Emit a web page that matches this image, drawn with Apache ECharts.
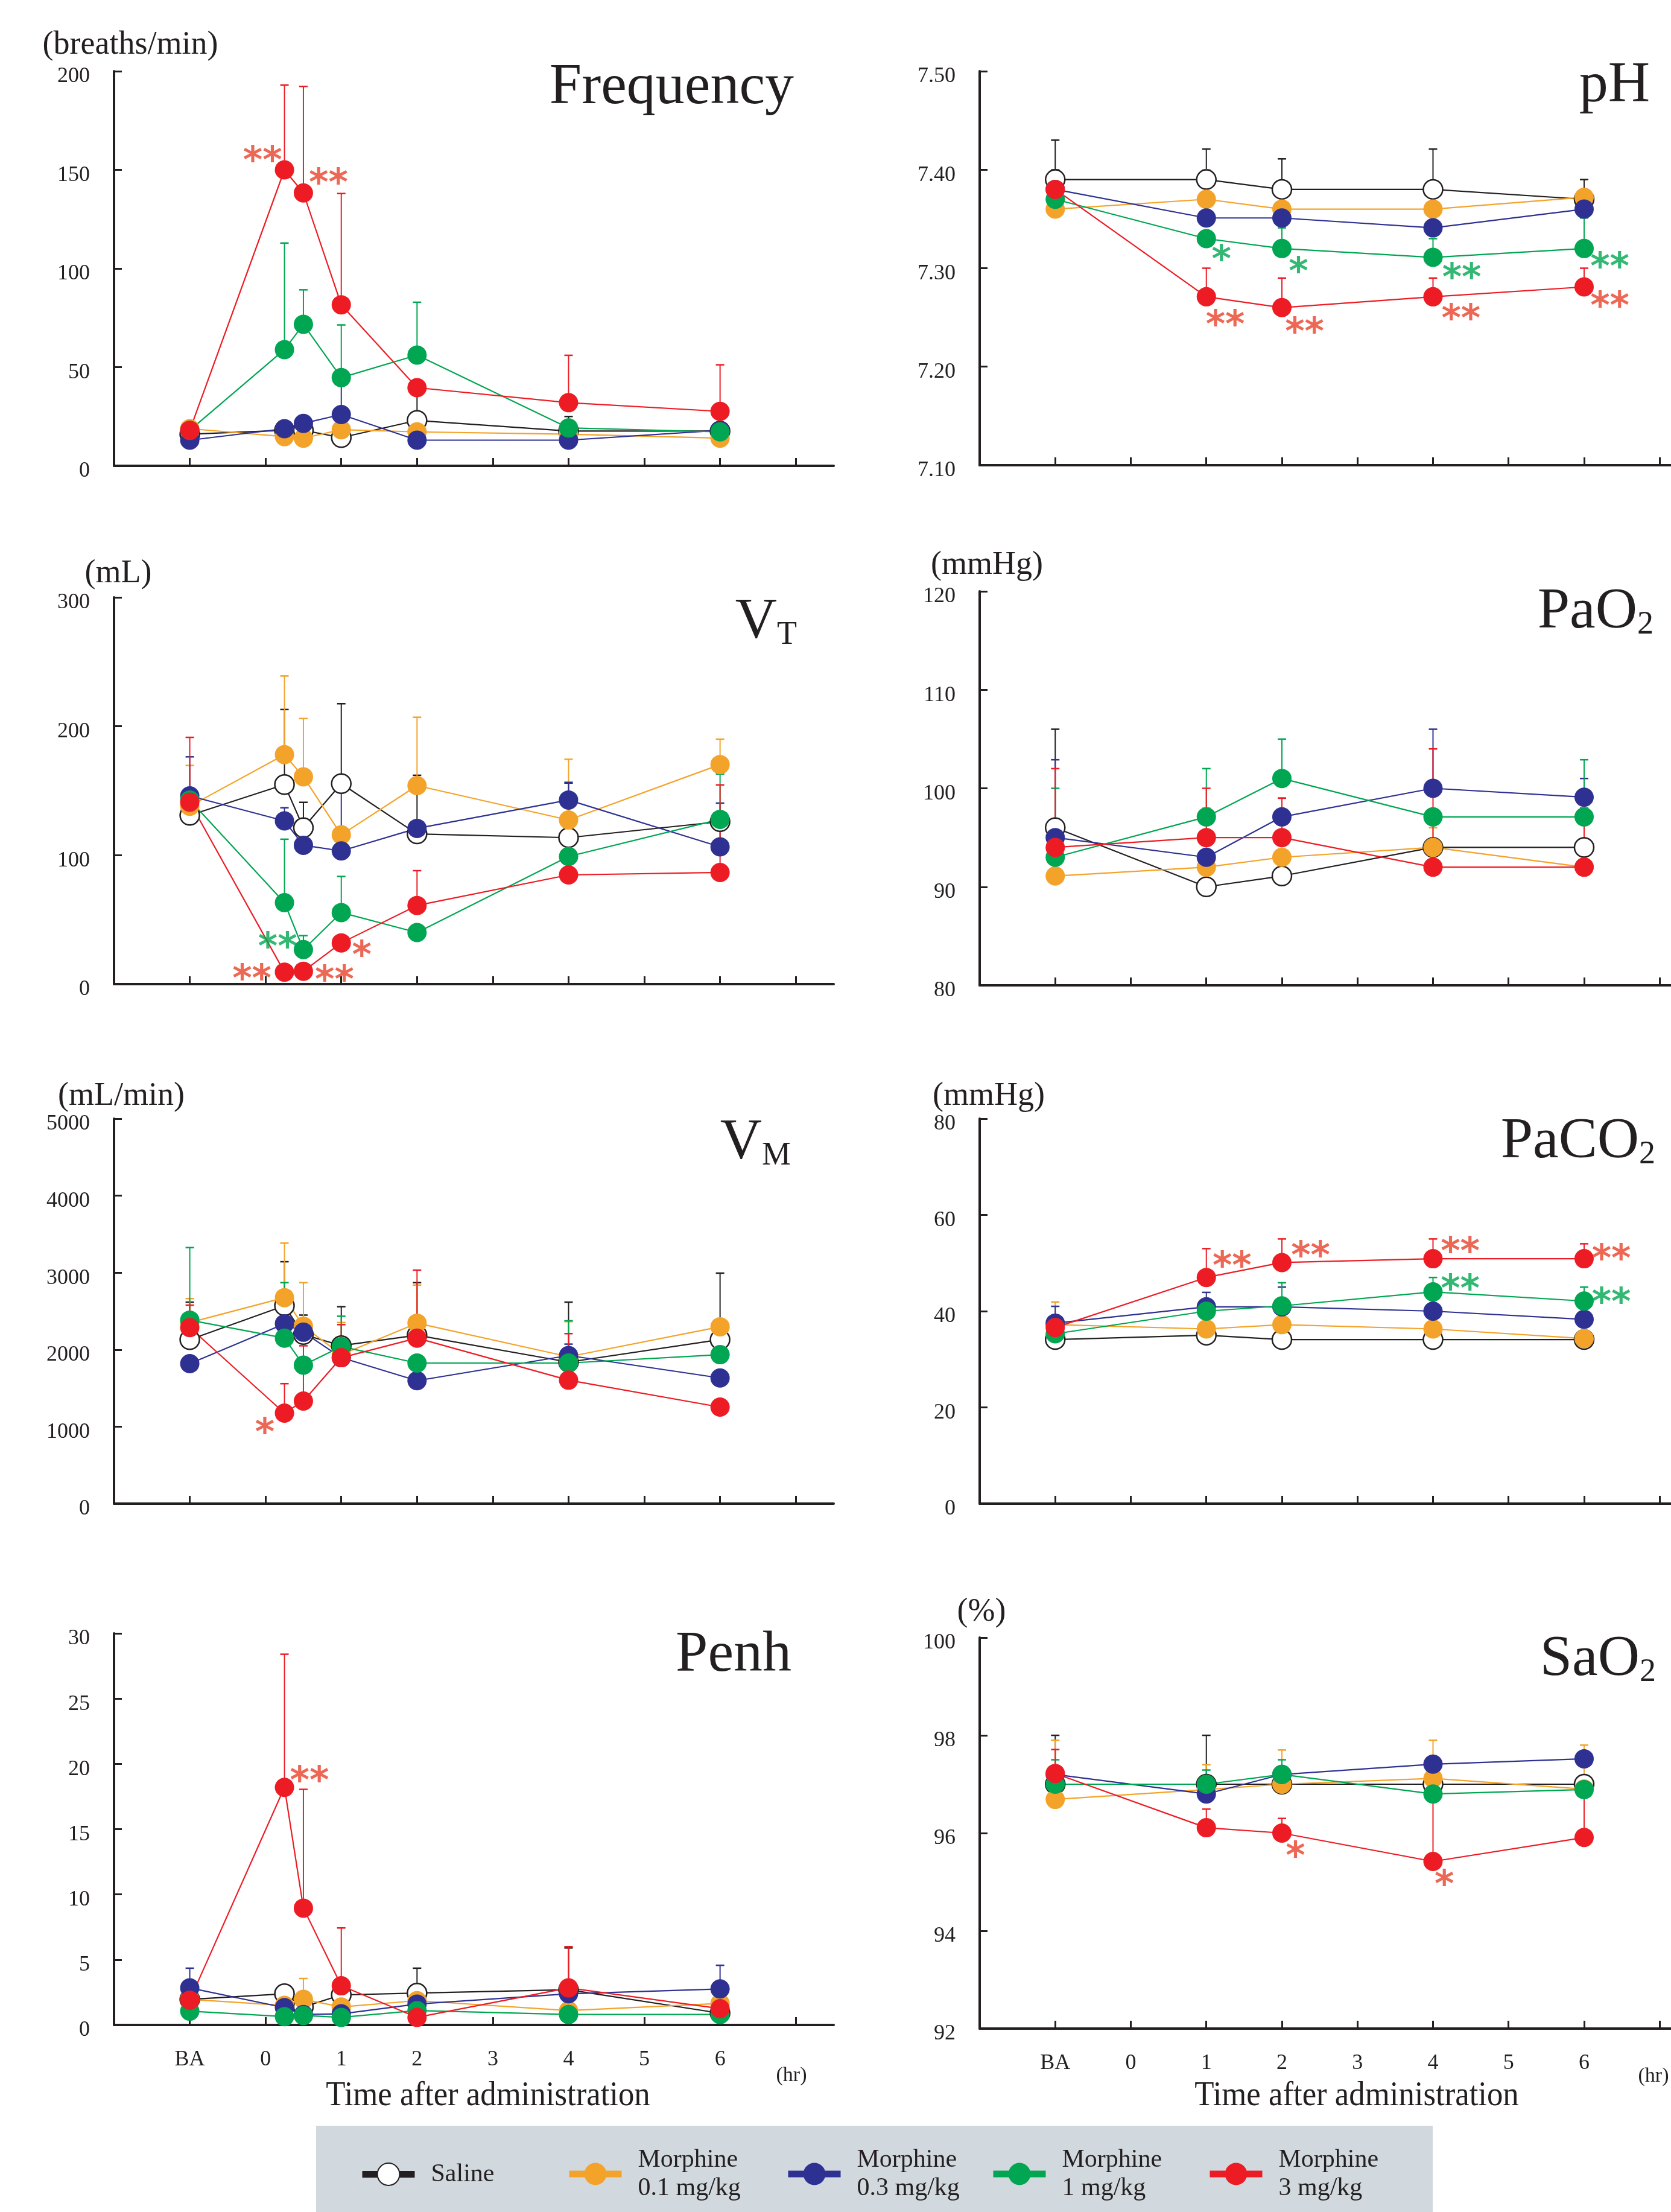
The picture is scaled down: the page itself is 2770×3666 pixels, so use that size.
<!DOCTYPE html>
<html><head><meta charset="utf-8">
<script src="https://cdn.jsdelivr.net/npm/echarts@6/dist/echarts.min.js"></script>
<style>html,body{margin:0;padding:0;background:#fff}#c{width:2770px;height:3666px}</style>
</head><body><div id="c"></div>
<script>
// ---------------- DATA ----------------
const groups = ['Saline', 'Morphine 0.1 mg/kg', 'Morphine 0.3 mg/kg', 'Morphine 1 mg/kg', 'Morphine 3 mg/kg'];
const groupColors = ['#231f20', '#f4a32a', '#2e3192', '#00a651', '#ed1c24'];
const starColors = { r: '#e9412b', g: '#00a651' };

// time points (BA plotted at -1 hr)
const tResp = [-1, 0.25, 0.5, 1, 2, 4, 6];
const tBlood = [-1, 1, 2, 4, 6];
const xTickValues = [-1, 0, 1, 2, 3, 4, 5, 6, 7];
const xLabelValues = [-1, 0, 1, 2, 3, 4, 5, 6];

// Frequency (breaths/min)   rows: Saline, 0.1, 0.3, 1, 3 mg/kg
const freqMean = [
  [16, 18, 18, 14.3, 23, 17.6, 17.6],
  [18.8, 14.8, 14, 18.3, 17.2, 16, 14],
  [13, 18.8, 21.5, 26, 13, 13, 18],
  [18, 58.9, 71.7, 44.7, 56.1, 19.2, 17.2],
  [18, 150, 138.3, 81.6, 39.6, 32, 27.6]
];
const freqUpper = [
  [null, null, null, null, 37, 25, null],
  [null, null, null, null, null, null, null],
  [null, null, null, 42, null, null, null],
  [null, 112.9, 89.2, 71.4, 82.9, null, null],
  [null, 193, 192.3, 138, null, 56, 51.2]
];
const freqStars = [[-0.04, 158.4, '**', 'r'], [0.83, 147.2, '**', 'r']];

// pH
const phMean = [
  [7.39, 7.39, 7.38, 7.38, 7.37],
  [7.36, 7.37, 7.36, 7.36, 7.372],
  [7.38, 7.351, 7.351, 7.341, 7.36],
  [7.37, 7.33, 7.32, 7.311, 7.32],
  [7.38, 7.271, 7.26, 7.271, 7.281]
];
const phUpper = [
  [7.43, 7.421, 7.411, 7.421, 7.39],
  [7.40, 7.40, null, null, null],
  [null, null, null, null, null],
  [null, null, 7.341, 7.33, 7.351],
  [7.40, 7.30, 7.29, 7.29, 7.30]
];
const phStars = [[1.20, 7.316, '*', 'g'], [2.22, 7.304, '*', 'g'], [4.38, 7.298, '**', 'g'], [6.34, 7.309, '**', 'g'],
  [1.25, 7.250, '**', 'r'], [2.30, 7.243, '**', 'r'], [4.37, 7.256, '**', 'r'], [6.34, 7.269, '**', 'r']];

// VT (mL)
const vtMean = [
  [130.9, 154.8, 121.3, 155.5, 116.5, 113.6, 126],
  [138, 178, 160.8, 115.8, 154, 127.3, 170.3],
  [146, 126.6, 107.7, 103.3, 120.8, 142.8, 106.5],
  [142.8, 63.2, 26.8, 55.5, 40, 99, 127.8],
  [141.1, 9.3, 10, 32, 61, 84.7, 86.6]
];
const vtUpper = [
  [null, 213, 141, 217.5, 162, 156, null],
  [169.6, 239, 206, null, 207, 174.4, 190],
  [176.3, 136.8, null, 150, null, 156.5, 140.4],
  [null, 112.4, 37.6, 83.5, null, null, 163],
  [191.4, null, null, null, 88, null, 154.5]
];
const vtStars = [[0.16, 34.5, '**', 'g'], [-0.18, 9.8, '**', 'r'], [0.91, 8.9, '**', 'r'], [1.27, 28.1, '*', 'r']];

// PaO2 (mmHg)
const pao2Mean = [
  [96, 90, 91.1, 94, 94],
  [91.1, 92, 93, 94, 92],
  [95, 93, 97.1, 100, 99.1],
  [93, 97.1, 101, 97.1, 97.1],
  [94, 95, 95, 92, 92]
];
const pao2Upper = [
  [106, null, null, null, null],
  [null, 98, null, 96, null],
  [102.9, null, 99, 106, 101],
  [100, 102, 105, null, 102.9],
  [102, 100, 99, 104, 98]
];
const pao2Stars = [];

// VM (mL/min)
const vmMean = [
  [2130, 2570, 2196, 2052, 2188, 1838, 2130],
  [2352, 2675, 2305, 1935, 2344, 1908, 2297],
  [1818, 2336, 2227, 1896, 1597, 1924, 1632],
  [2383, 2150, 1799, 2040, 1826, 1826, 1935],
  [2286, 1176, 1332, 1896, 2150, 1604, 1254]
];
const vmUpper = [
  [2617, 3142, 2449, 2558, 2870, 2617, 2994],
  [2663, 3384, 2870, 2352, 2839, 2364, null],
  [null, null, null, null, null, 2072, null],
  [3326, 2870, null, 2434, null, 2375, null],
  [2578, 1558, 2050, 2325, 3033, 2208, null]
];
const vmStars = [[-0.01, 1019, '*', 'r']];

// PaCO2 (mmHg)
const paco2Mean = [
  [34.1, 35, 34.1, 34.1, 34.1],
  [37.2, 36.3, 37.2, 36.3, 34.3],
  [37.5, 40.9, 40.9, 40, 38.3],
  [35.3, 40, 41.1, 44, 42.1],
  [36.6, 47, 50.1, 50.9, 50.9]
];
const paco2Upper = [
  [null, null, null, null, null],
  [41.9, null, null, null, null],
  [41, 43.9, 45, null, null],
  [null, null, 45.9, 47, 45],
  [39.2, 53, 55, 55, 54]
];
const paco2Stars = [[1.34, 50.9, '**', 'r'], [2.38, 53.0, '**', 'r'], [4.36, 53.9, '**', 'r'], [6.36, 52.4, '**', 'r'],
  [4.36, 46.1, '**', 'g'], [6.36, 43.4, '**', 'g']];

// Penh
const penhMean = [
  [1.96, 2.39, 1.38, 2.3, 2.44, 2.7, 0.9],
  [1.96, 1.5, 1.96, 1.38, 1.86, 1.1, 1.65],
  [2.84, 1.33, 0.8, 0.85, 1.6, 2.39, 2.76],
  [1.06, 0.64, 0.72, 0.58, 1.1, 0.8, 0.8],
  [1.9, 18.2, 8.95, 3.0, 0.58, 2.84, 1.25]
];
const penhUpper = [
  [null, null, null, null, 4.35, 5.9, null],
  [null, null, 3.56, null, null, null, null],
  [4.35, null, null, null, null, null, 4.57],
  [null, null, null, null, null, null, null],
  [null, 28.4, 18.05, 7.43, null, 6.0, null]
];
const penhStars = [[0.58, 19.3, '**', 'r']];

// SaO2 (%)
const sao2Mean = [
  [97, 97, 97, 97, 97],
  [96.69, 96.89, 97, 97.12, 96.9],
  [97.2, 96.8, 97.2, 97.41, 97.52],
  [97, 97, 97.2, 96.8, 96.89],
  [97.22, 96.11, 96.0, 95.42, 95.91]
];
const sao2Upper = [
  [98, 98, null, null, null],
  [97.9, 97.4, 97.7, 97.9, 97.8],
  [null, null, null, null, 97.68],
  [97.5, 97.29, 97.5, null, null],
  [97.71, 96.49, 96.3, 96.8, 96.9]
];
const sao2Stars = [[2.18, 95.68, '*', 'r'], [4.15, 95.10, '*', 'r']];

// ---------------- LAYOUT ----------------
const FONT = 'Liberation Serif';
const TXT = '#231f20';
const L = { left: 189, width: 1193, xmax: 7.5 };
const R = { left: 1624, width: 1146, xmax: 7.15 };

const panels = [
  { t: tResp, mean: freqMean, up: freqUpper, stars: freqStars, min: 0, max: 200, interval: 50, dec: 0, col: L, top: 118, height: 654, bottom: false },
  { t: tBlood, mean: phMean, up: phUpper, stars: phStars, min: 7.1, max: 7.5, interval: 0.1, dec: 2, col: R, top: 118, height: 653, bottom: false },
  { t: tResp, mean: vtMean, up: vtUpper, stars: vtStars, min: 0, max: 300, interval: 100, dec: 0, col: L, top: 990, height: 641, bottom: false },
  { t: tBlood, mean: pao2Mean, up: pao2Upper, stars: pao2Stars, min: 80, max: 120, interval: 10, dec: 0, col: R, top: 980, height: 653, bottom: false },
  { t: tResp, mean: vmMean, up: vmUpper, stars: vmStars, min: 0, max: 5000, interval: 1000, dec: 0, col: L, top: 1854, height: 638, bottom: false },
  { t: tBlood, mean: paco2Mean, up: paco2Upper, stars: paco2Stars, min: 0, max: 80, interval: 20, dec: 0, col: R, top: 1854, height: 638, bottom: false },
  { t: tResp, mean: penhMean, up: penhUpper, stars: penhStars, min: 0, max: 30, interval: 5, dec: 0, col: L, top: 2707, height: 649, bottom: true },
  { t: tBlood, mean: sao2Mean, up: sao2Upper, stars: sao2Stars, min: 92, max: 100, interval: 2, dec: 0, col: R, top: 2714, height: 648, bottom: true }
];

const grid = [], xAxis = [], yAxis = [], series = [];
panels.forEach((p, i) => {
  grid.push({ left: p.col.left, width: p.col.width, top: p.top, height: p.height });
  xAxis.push({
    type: 'value', gridIndex: i, min: -2, max: p.col.xmax, interval: 1,
    axisLine: { show: true, onZero: false, lineStyle: { color: TXT, width: 4 } },
    axisTick: { show: true, inside: true, length: 13, lineStyle: { color: TXT, width: 3 }, customValues: xTickValues },
    axisLabel: {
      show: p.bottom, customValues: xLabelValues, margin: 40, fontFamily: FONT, fontSize: 36, color: TXT,
      formatter: v => v === -1 ? 'BA' : String(v)
    },
    splitLine: { show: false }
  });
  yAxis.push({
    type: 'value', gridIndex: i, min: p.min, max: p.max, interval: p.interval,
    axisLine: { show: true, onZero: false, lineStyle: { color: TXT, width: 4 } },
    axisTick: { show: true, inside: true, length: 13, lineStyle: { color: TXT, width: 3 } },
    axisLabel: { margin: 40, fontFamily: FONT, fontSize: 36, color: TXT, verticalAlign: 'top', lineHeight: 18,
      formatter: v => v.toFixed(p.dec) },
    splitLine: { show: false }
  });
  groups.forEach((g, j) => {
    const c = groupColors[j];
    series.push({
      type: 'custom', name: g + ' SD', xAxisIndex: i, yAxisIndex: i, z: 2, silent: true,
      data: p.t.map((t, k) => p.up[j][k] == null ? null : [t, p.mean[j][k], p.up[j][k]]).filter(Boolean),
      renderItem: (params, api) => {
        const a = api.coord([api.value(0), api.value(1)]);
        const b = api.coord([api.value(0), api.value(2)]);
        return { type: 'group', children: [
          { type: 'line', shape: { x1: a[0], y1: a[1], x2: b[0], y2: b[1] }, style: { stroke: c, lineWidth: 2 } },
          { type: 'line', shape: { x1: b[0] - 7, y1: b[1], x2: b[0] + 7, y2: b[1] }, style: { stroke: c, lineWidth: 2.5 } }
        ] };
      }
    });
  });
  groups.forEach((g, j) => {
    const c = groupColors[j];
    series.push({
      type: 'line', name: g, xAxisIndex: i, yAxisIndex: i, z: 3,
      data: p.t.map((t, k) => [t, p.mean[j][k]]),
      symbol: 'circle', symbolSize: 32, showAllSymbol: true,
      lineStyle: { color: c, width: 2.2 },
      itemStyle: j === 0 ? { color: '#ffffff', borderColor: c, borderWidth: 2.5 } : { color: c, borderWidth: 0 },
      emphasis: { disabled: true }
    });
  });
  series.push({
    type: 'scatter', name: 'stars', xAxisIndex: i, yAxisIndex: i, z: 4, silent: true,
    symbolSize: 2, itemStyle: { color: 'rgba(0,0,0,0)' },
    data: p.stars.map(s => ({ value: [s[0], s[1]], label: { show: true, formatter: s[2], color: starColors[s[3]] } })),
    label: { show: true, position: 'inside', fontFamily: 'DejaVu Sans', fontWeight: 'bold', fontSize: 62 },
    labelLayout: { hideOverlap: false, dy: 16 }
  });
});

// titles (rich text, baseline-aligned)
const titleDefs = [
  ['{m|Frequency}', 1316, 173], ['{m|pH}', 2735, 170],
  ['{m|V}{s|T}', 1321, 1059], ['{m|PaO}{s|2}', 2741, 1042],
  ['{m|V}{s|M}', 1311, 1922], ['{m|PaCO}{s|2}', 2744, 1920],
  ['{m|Penh}', 1312, 2771], ['{m|SaO}{s|2}', 2745, 2778]
];
const unitDefs = [
  ['(breaths/min)', 216, 75], ['(mL)', 196, 951], ['(mmHg)', 1636, 937],
  ['(mL/min)', 201, 1817], ['(mmHg)', 1639, 1817], ['(%)', 1627, 2672]
];
const graphic = [];
graphic.push({ type: 'rect', shape: { x: 524, y: 3523, width: 1851, height: 143 }, style: { fill: '#d1d9df' }, z: 0 });
titleDefs.forEach(d => graphic.push({
  type: 'text', x: d[1], y: d[2] + 21, style: {
    text: d[0], align: 'right', verticalAlign: 'bottom', fill: TXT,
    rich: {
      m: { fontFamily: FONT, fontSize: 96, lineHeight: 65, verticalAlign: 'bottom', fill: TXT },
      s: { fontFamily: FONT, fontSize: 54, lineHeight: 54, verticalAlign: 'bottom', fill: TXT }
    }
  }
}));
unitDefs.forEach(d => graphic.push({
  type: 'text', x: d[1], y: d[2], style: { text: d[0], fontFamily: FONT, fontSize: 54, fill: TXT, align: 'center', verticalAlign: 'middle' }
}));
[[809, 3474], [2249, 3474]].forEach(d => graphic.push({
  type: 'text', x: d[0], y: d[1], scaleX: 0.91, style: { text: 'Time after administration', fontFamily: FONT, fontSize: 58, fill: TXT, align: 'center', verticalAlign: 'middle' }
}));
[[1312, 3440], [2741, 3441]].forEach(d => graphic.push({
  type: 'text', x: d[0], y: d[1], style: { text: '(hr)', fontFamily: FONT, fontSize: 34, fill: TXT, align: 'center', verticalAlign: 'middle' }
}));

// legends
const legendLeft = [595, 938, 1301, 1641, 2000];
const legendTop = [3580, 3556, 3556, 3556, 3556];
const legend = groups.map((g, i) => ({
  data: [g], left: legendLeft[i], top: legendTop[i], padding: 0, itemGap: 0,
  itemWidth: 87, itemHeight: 46, selectedMode: false,
  lineStyle: { width: 11 },
  formatter: n => n.replace('Morphine ', 'Morphine\n'),
  textStyle: { fontFamily: FONT, fontSize: 42, lineHeight: 47, color: TXT, padding: [0, 0, 0, 22] }
}));

const chart = echarts.init(document.getElementById('c'), null, { renderer: 'canvas' });
chart.setOption({
  animation: false, backgroundColor: '#ffffff',
  grid, xAxis, yAxis, series, legend, graphic
});
</script></body></html>
